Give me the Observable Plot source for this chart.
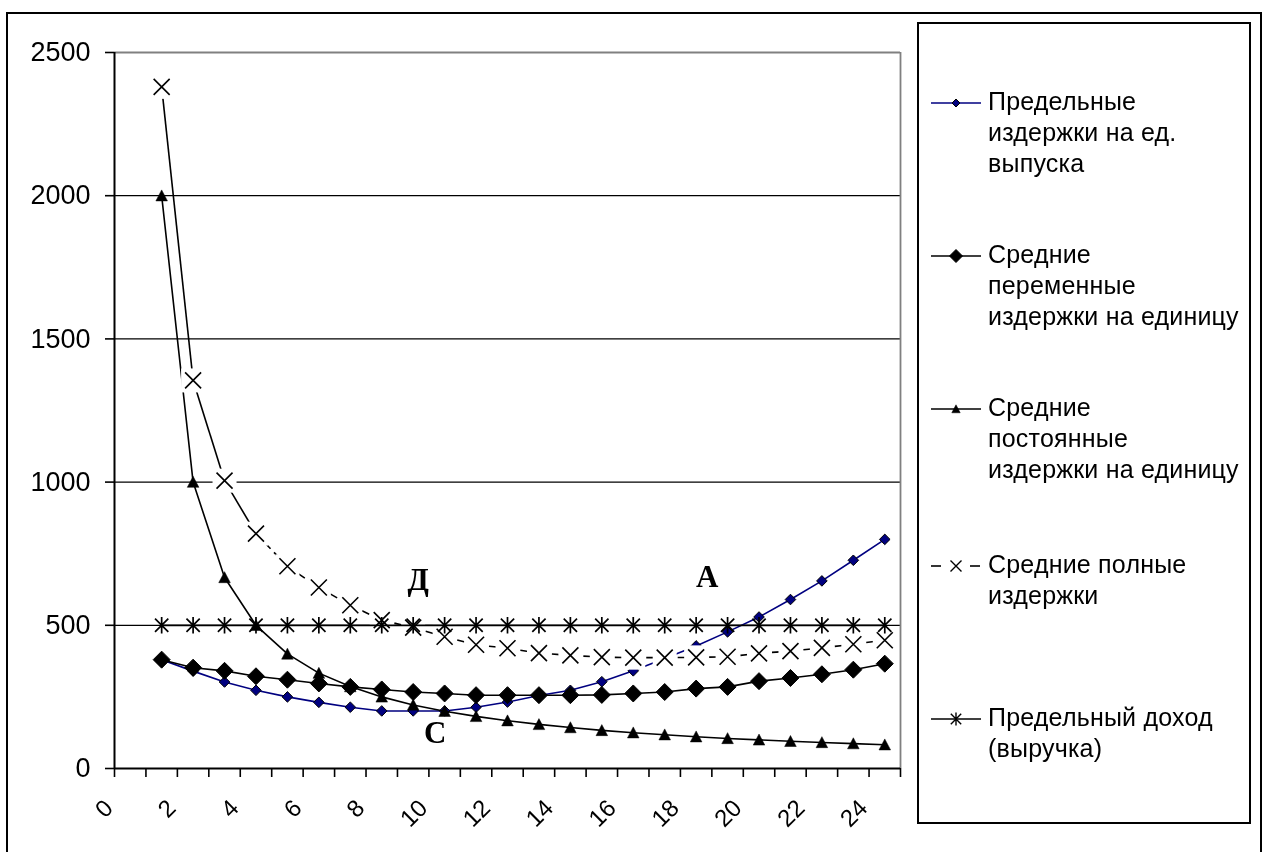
<!DOCTYPE html>
<html><head><meta charset="utf-8">
<script src="https://cdn.jsdelivr.net/npm/d3@7"></script>
<script src="https://cdn.jsdelivr.net/npm/@observablehq/plot@0.6"></script>
<style>
html,body{margin:0;padding:0;overflow:hidden;background:#fff;width:1263px;height:852px;}
#wrap{position:relative;width:1263px;height:852px;overflow:hidden;}
#frame{position:absolute;left:6px;top:12px;width:1256px;height:900px;border:2px solid #000;box-sizing:border-box;}
#chart{position:absolute;left:0;top:0;will-change:transform;}
#legend{position:absolute;left:917px;top:22px;width:334px;height:802px;border:2px solid #000;box-sizing:border-box;background:#fff;font-family:"Liberation Sans",Arial,sans-serif;font-size:25px;color:#000;will-change:transform;}
.item{position:absolute;left:0;width:330px;}
.item svg{position:absolute;left:10px;top:0;}
.item .txt{position:absolute;left:69px;top:0;line-height:31px;white-space:nowrap;letter-spacing:0.2px;}
</style></head>
<body><div id="wrap"><div id="frame"></div><div id="chart"></div><div id="legend"></div></div>
<script>
// ---- data ----
const output = [1.5,2.5,3.5,4.5,5.5,6.5,7.5,8.5,9.5,10.5,11.5,12.5,13.5,14.5,15.5,16.5,17.5,18.5,19.5,20.5,21.5,22.5,23.5,24.5];
const marginalCost    = [380,340,302,273,250,231,214,201,201,201,214,232,255,273,303,341,384,428,477,529,590,655,727,800];
const avgVariableCost = [380,352,341,322,310,297,285,276,267,262,256,256,256,256,257,262,267,279,285,305,316,329,345,366];
const avgFixedCost    = [2000,1000,667,500,400,333,286,250,222,200,182,167,154,143,133,125,118,111,105,100,95,91,87,83];
const avgTotalCost    = [2380,1355,1005,820,706,632,570,518,492,460,432,420,403,395,389,387,387,388,390,402,410,421,434,448];
const marginalRevenue = [500,500,500,500,500,500,500,500,500,500,500,500,500,500,500,500,500,500,500,500,500,500,500,500];
const xTickValues = [0,1,2,3,4,5,6,7,8,9,10,11,12,13,14,15,16,17,18,19,20,21,22,23,24,25];
const xTickLabels = [0,2,4,6,8,10,12,14,16,18,20,22,24];
const yTicks = [0,500,1000,1500,2000,2500];
const gridLines = [500,1000,1500,2000];
const annotations = [
  {label:"Д", x:9.66, y:657},
  {label:"А", x:18.85, y:667},
  {label:"С", x:10.2, y:123}
];
const legendLabels = [
  ["Предельные","издержки на ед.","выпуска"],
  ["Средние","переменные","издержки на единицу"],
  ["Средние","постоянные","издержки на единицу"],
  ["Средние полные","издержки"],
  ["Предельный доход","(выручка)"]
];

// ---- marker shapes (Excel style) ----
const R = s => Math.sqrt(s/Math.PI);
const diamond = {draw(c,s){const r=R(s);c.moveTo(0,-r);c.lineTo(r,0);c.lineTo(0,r);c.lineTo(-r,0);c.closePath();}};
const triangle = {draw(c,s){const r=R(s);c.moveTo(0,-r);c.lineTo(r,r*0.9);c.lineTo(-r,r*0.9);c.closePath();}};
const times = {draw(c,s){const r=R(s);c.moveTo(-r,-r);c.lineTo(r,r);c.moveTo(-r,r);c.lineTo(r,-r);}};
const star = {draw(c,s){const r=R(s);const d=r*0.8;c.moveTo(0,-r);c.lineTo(0,r);c.moveTo(-d,-d);c.lineTo(d,d);c.moveTo(-d,d);c.lineTo(d,-d);}};
const square = {draw(c,s){const r=R(s);c.rect(-r,-r,2*r,2*r);}};

const rows = output.map((q,i)=>({q, mc:marginalCost[i], avc:avgVariableCost[i], afc:avgFixedCost[i], atc:avgTotalCost[i], mr:marginalRevenue[i]}));
// consecutive segments of the average total cost curve (Excel restarts the dash pattern per segment)
const atcSegments = rows.slice(1).map((r,i)=>({i, q1:rows[i].q, y1:rows[i].atc, q2:r.q, y2:r.atc}));
const navy = "#000080";

const chart = Plot.plot({
  width:1263, height:852,
  marginLeft:114, marginRight:363, marginTop:52, marginBottom:84,
  x:{domain:[0,25]},
  y:{domain:[0,2500]},
  style:{fontFamily:"'Liberation Sans', Arial, sans-serif", background:"transparent", overflow:"visible"},
  marks:[
    Plot.ruleY(gridLines,{stroke:"#000",strokeWidth:1.3}),
    Plot.ruleY([2500],{stroke:"#808080",strokeWidth:1.8}),
    Plot.ruleX([25],{stroke:"#808080",strokeWidth:1.8}),
    // marginal cost
    Plot.line(rows,{x:"q",y:"mc",stroke:navy,strokeWidth:1.6}),
    Plot.dot(rows,{x:"q",y:"mc",symbol:diamond,r:5.3,fill:navy,stroke:"#000",strokeWidth:1}),
    // average variable cost
    Plot.line(rows,{x:"q",y:"avc",stroke:"#000",strokeWidth:1.6}),
    Plot.dot(rows,{x:"q",y:"avc",symbol:diamond,r:8.5,fill:"#000",stroke:"#000",strokeWidth:1}),
    // average fixed cost
    Plot.line(rows,{x:"q",y:"afc",stroke:"#000",strokeWidth:1.6}),
    Plot.dot(rows,{x:"q",y:"afc",symbol:triangle,r:5.8,fill:"#000",stroke:"#000",strokeWidth:0.5}),
    // average total cost
    Plot.link(atcSegments.filter(d=>d.i<3),{x1:"q1",y1:"y1",x2:"q2",y2:"y2",stroke:"#000",strokeWidth:1.6}),
    Plot.link(atcSegments.filter(d=>d.i>=3),{x1:"q1",y1:"y1",x2:"q2",y2:"y2",stroke:"#000",strokeWidth:1.6,strokeDasharray:"8,5"}),
    Plot.dot(rows,{x:"q",y:"atc",symbol:square,r:12,fill:"#fff",stroke:"none"}),
    Plot.dot(rows,{x:"q",y:"atc",symbol:times,r:8,fill:"none",stroke:"#000",strokeWidth:1.6}),
    // marginal revenue
    Plot.line(rows,{x:"q",y:"mr",stroke:"#000",strokeWidth:1.8}),
    Plot.dot(rows,{x:"q",y:"mr",symbol:star,r:8.3,fill:"none",stroke:"#000",strokeWidth:1.7}),
    // axes
    Plot.axisX(xTickValues,{tickSize:9,tickFormat:()=>"",stroke:"#000",strokeWidth:1.6}),
    Plot.text(xTickLabels,{x:d=>d,y:()=>0,text:d=>String(d),rotate:-45,textAnchor:"end",dx:-5.5,dy:35.5,fontSize:24,fill:"#000"}),
    Plot.axisY(yTicks,{tickSize:9,tickPadding:15,fontSize:27,tickFormat:d=>String(d),stroke:"#000",strokeWidth:1.6,fill:"#000"}),
    Plot.ruleY([0],{stroke:"#000",strokeWidth:2}),
    Plot.ruleX([0],{stroke:"#000",strokeWidth:2}),
    // annotations
    Plot.text(annotations,{x:"x",y:"y",text:"label",fontFamily:"'Liberation Serif', 'Times New Roman', serif",fontWeight:"bold",fontSize:31,fill:"#000"})
  ]
});
document.getElementById("chart").appendChild(chart);

// ---- legend ----
const legendStyles = [
  {stroke:navy, dash:false, sym:diamond, r:4, fill:navy, mstroke:"#000", sw:1},
  {stroke:"#000", dash:false, sym:diamond, r:6.5, fill:"#000", mstroke:"#000", sw:1},
  {stroke:"#000", dash:false, sym:triangle, r:4.2, fill:"#000", mstroke:"#000", sw:0.5},
  {stroke:"#000", dash:true, sym:times, r:5.5, fill:"none", mstroke:"#000", sw:1.4},
  {stroke:"#000", dash:false, sym:star, r:6.5, fill:"none", mstroke:"#000", sw:1.4}
];
const entryTops = [62, 215, 368, 525, 678];
const legend = d3.select("#legend");
legendLabels.forEach((lines,i)=>{
  const st = legendStyles[i];
  const item = legend.append("div").attr("class","item").style("top",entryTops[i]+"px");
  const svg = item.append("svg").attr("width",56).attr("height",32);
  if (st.dash) {
    svg.append("line").attr("x1",2).attr("x2",12).attr("y1",17).attr("y2",17).attr("stroke",st.stroke).attr("stroke-width",1.6);
    svg.append("line").attr("x1",41).attr("x2",51).attr("y1",17).attr("y2",17).attr("stroke",st.stroke).attr("stroke-width",1.6);
  } else {
    svg.append("line").attr("x1",2).attr("x2",52).attr("y1",17).attr("y2",17).attr("stroke",st.stroke).attr("stroke-width",1.6);
  }
  svg.append("path").attr("transform","translate(27,17)")
    .attr("d",d3.symbol(st.sym, st.r*st.r*Math.PI)())
    .attr("fill",st.fill).attr("stroke",st.mstroke).attr("stroke-width",st.sw);
  item.append("div").attr("class","txt").html(lines.join("<br>"));
});
</script>
</body></html>
